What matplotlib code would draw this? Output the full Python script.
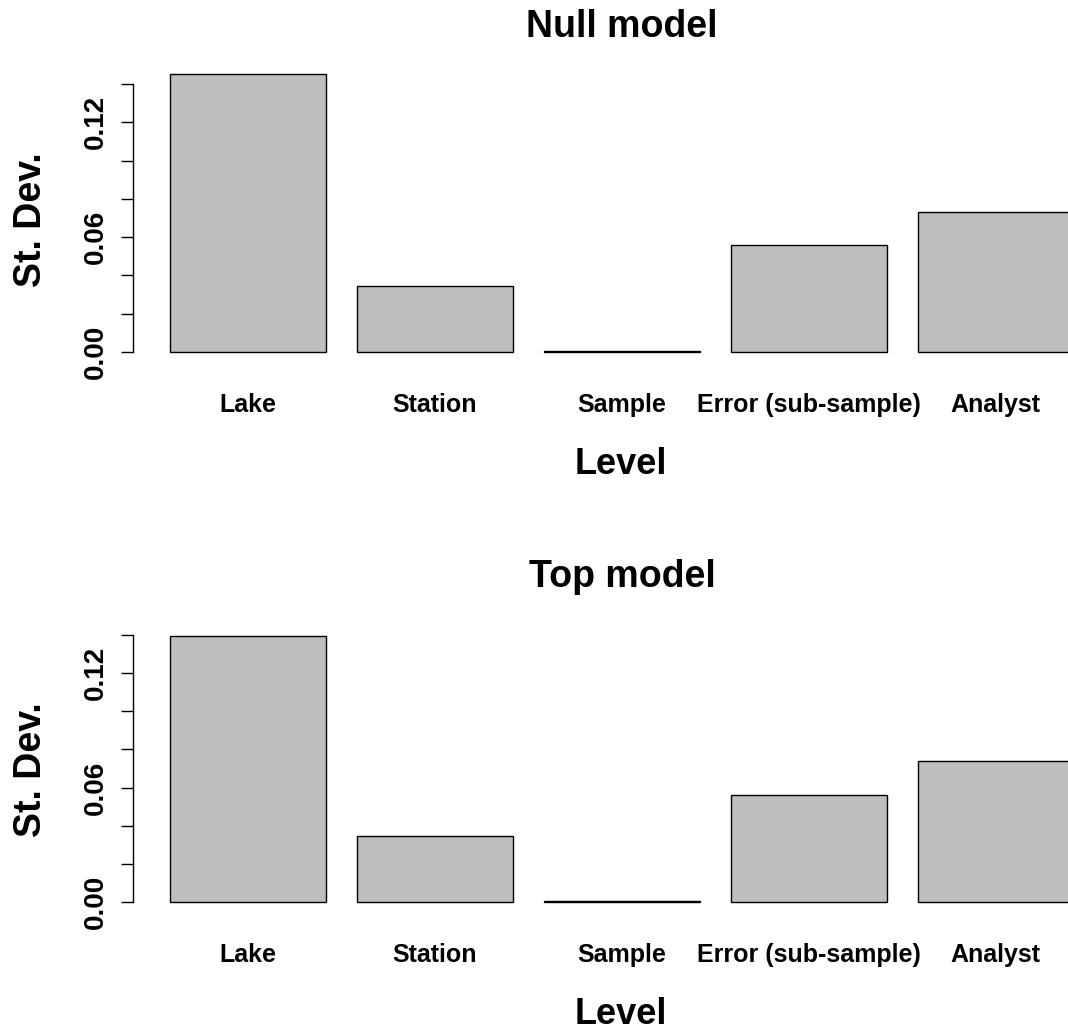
import numpy as np
import matplotlib.pyplot as plt

plt.rcParams['font.family'] = ['Liberation Sans', 'DejaVu Sans']
plt.rcParams['font.weight'] = 'bold'

# --- Data ---
levels = ["Lake", "Station", "Sample", "Error (sub-sample)", "Analyst"]
null_sd = [0.1452, 0.0345, 0.0005, 0.0559, 0.0731]
top_sd = [0.1395, 0.0346, 0.0005, 0.0561, 0.0739]
yticks = [0.00, 0.02, 0.04, 0.06, 0.08, 0.10, 0.12, 0.14]
ylabels = ["0.00", "", "", "0.06", "", "", "0.12", ""]

W, H = 1068, 1030
fig = plt.figure(figsize=(W / 100, H / 100), dpi=100)

px_per_unit = 155.8
left_px = 133
right_px = 1110
x0 = 0.2 - (170 - left_px) / px_per_unit
x1 = x0 + (right_px - left_px) / px_per_unit


def panel(vals, title, ybot_px, ytop_px, off):
    m = max(vals)
    ax = fig.add_axes([left_px / W, 1 - ybot_px / H, (right_px - left_px) / W,
                       (ybot_px - ytop_px) / H])
    pos = 0.2 + 1.2 * np.arange(len(vals)) + 0.5
    ax.bar(pos, vals, width=1.0, color="#bebebe", edgecolor="black",
           linewidth=1.0, clip_on=False)
    ax.set_xlim(x0, x1)
    ax.set_ylim(-0.04 * m, 1.04 * m)
    for s in ["top", "right", "bottom"]:
        ax.spines[s].set_visible(False)
    ax.spines["left"].set_bounds(0, 0.14)
    ax.spines["left"].set_linewidth(1.0)
    ax.set_xticks([])
    ax.set_yticks(yticks)
    ax.set_yticklabels(ylabels, rotation=90, va="center", fontsize=20,
                       fontweight="bold")
    ax.tick_params(axis="y", length=8.6, width=1.0, pad=8.6)
    for p, lab in zip(pos, levels):
        fig.text(((p - x0) * px_per_unit + left_px) / W, 1 - (412 + off) / H,
                 lab, ha="center", va="baseline", fontsize=18,
                 fontweight="bold")
    fig.text(622 / W, 1 - (37 + off) / H, title, ha="center", va="baseline",
             fontsize=27, fontweight="bold")
    fig.text(621 / W, 1 - (474 + off) / H, "Level", ha="center",
             va="baseline", fontsize=26, fontweight="bold")
    fig.text(31 / W, 1 - (220 + off) / H, "St. Dev.", rotation=90,
             ha="center", va="center", fontsize=27, fontweight="bold")
    return ax


panel(null_sd, "Null model", 363, 63, 0)
panel(top_sd, "Top model", 913, 625, 550)

plt.savefig("out.png", dpi=100)
